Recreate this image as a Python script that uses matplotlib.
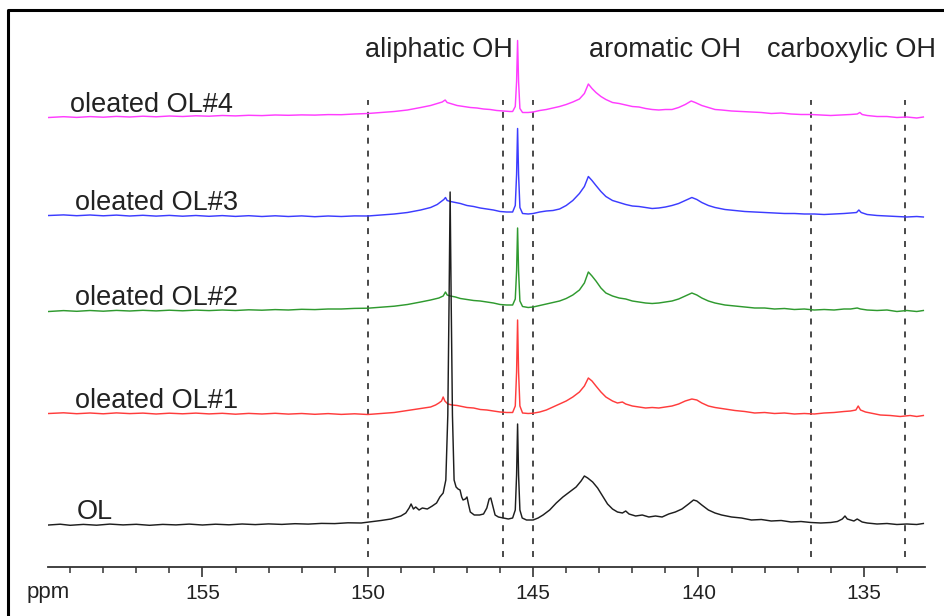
import matplotlib
matplotlib.use("Agg")
import matplotlib.pyplot as plt
from matplotlib.lines import Line2D

plt.rcParams['font.family'] = ['Liberation Sans', 'DejaVu Sans']
plt.rcParams['lines.scale_dashes'] = False

# 31P NMR traces: (ppm, intensity above own baseline), intensity in a.u.
ol = [
    (159.65, 0.0), (159.3, 0.8), (159.0, -0.3), (158.6, 0.6), (158.2, -0.2), (157.8, 0.9),
    (157.4, 0.1), (157.0, 0.7), (156.6, -0.3), (156.2, 0.6), (155.8, 0.1), (155.4, 0.9),
    (155.0, 0.0), (154.6, 0.8), (154.2, 0.2), (153.8, 1.0), (153.4, 0.4), (153.0, 1.1),
    (152.6, 0.6), (152.2, 1.3), (151.8, 0.9), (151.4, 1.6), (151.0, 1.4), (150.6, 2.2),
    (150.2, 2.0), (149.9, 3.2), (149.6, 4.5), (149.3, 6.0), (149.0, 9.0), (148.85, 12.0),
    (148.75, 17.0), (148.69, 21.0), (148.62, 16.0), (148.55, 18.0), (148.45, 15.0),
    (148.35, 17.0), (148.2, 16.0), (148.05, 19.0), (147.92, 22.0), (147.82, 28.0),
    (147.72, 32.0), (147.64, 45.0), (147.58, 110.0), (147.54, 230.0), (147.51, 333.0),
    (147.48, 230.0), (147.44, 110.0), (147.39, 45.0), (147.33, 38.0), (147.27, 36.0),
    (147.21, 35.0), (147.16, 28.0), (147.12, 25.0), (147.05, 26.0), (147.0, 28.0),
    (146.95, 20.0), (146.9, 13.0), (146.78, 10.0), (146.62, 10.0), (146.5, 11.0),
    (146.4, 17.0), (146.33, 26.0), (146.28, 27.0), (146.22, 19.0), (146.15, 10.0),
    (146.05, 8.0), (145.9, 7.0), (145.75, 6.0), (145.62, 7.0), (145.54, 15.0),
    (145.5, 50.0), (145.47, 101.0), (145.44, 50.0), (145.40, 15.0), (145.33, 7.0),
    (145.2, 5.0), (145.0, 5.0), (144.85, 7.0), (144.7, 10.0), (144.5, 15.0), (144.3, 22.0),
    (144.1, 28.0), (143.9, 33.0), (143.7, 38.0), (143.55, 44.0), (143.45, 49.0),
    (143.35, 47.0), (143.2, 43.0), (143.05, 37.0), (142.9, 29.0), (142.75, 21.0),
    (142.6, 16.0), (142.45, 13.0), (142.3, 12.0), (142.2, 14.0), (142.1, 11.0),
    (141.9, 9.0), (141.7, 10.0), (141.5, 8.0), (141.3, 9.0), (141.1, 8.0), (140.9, 11.0),
    (140.7, 13.0), (140.5, 16.0), (140.3, 21.0), (140.15, 25.0), (140.05, 24.0),
    (139.9, 20.0), (139.7, 15.0), (139.5, 12.0), (139.3, 10.0), (139.0, 8.0), (138.7, 7.0),
    (138.4, 5.0), (138.1, 5.5), (137.8, 4.0), (137.5, 4.5), (137.2, 3.0), (136.9, 3.5),
    (136.6, 2.5), (136.3, 2.0), (136.0, 2.5), (135.8, 3.5), (135.65, 6.0), (135.57, 9.0),
    (135.5, 6.0), (135.4, 5.0), (135.3, 4.0), (135.2, 6.0), (135.15, 5.0), (135.05, 3.0),
    (134.9, 2.0), (134.6, 1.0), (134.3, 1.5), (134.0, 0.5), (133.7, 1.0), (133.4, 0.5),
    (133.2, 1.5),
]

ol1 = [
    (159.65, 0.5), (159.2, 1.2), (158.8, 0.3), (158.4, 1.0), (158.0, 0.2), (157.6, 1.1),
    (157.2, 0.4), (156.8, 0.9), (156.4, 0.0), (156.0, 0.8), (155.6, 0.2), (155.2, 0.9),
    (154.8, 0.1), (154.4, 0.7), (154.0, -0.2), (153.6, 0.6), (153.2, 0.0), (152.8, 0.7),
    (152.4, -0.1), (152.0, 0.5), (151.6, -0.3), (151.2, 0.4), (150.8, -0.4), (150.4, 0.2),
    (150.0, -0.5), (149.6, 0.5), (149.2, 1.5), (148.9, 3.0), (148.6, 4.5), (148.3, 6.0),
    (148.1, 7.0), (147.95, 9.0), (147.85, 11.0), (147.77, 13.0), (147.72, 17.0),
    (147.67, 13.0), (147.58, 10.0), (147.45, 9.0), (147.3, 8.5), (147.15, 7.5),
    (147.0, 6.5), (146.8, 6.0), (146.6, 4.5), (146.4, 4.0), (146.2, 3.0), (146.0, 2.0),
    (145.8, 1.5), (145.62, 1.5), (145.54, 8.0), (145.5, 42.0), (145.47, 94.0),
    (145.44, 42.0), (145.40, 8.0), (145.32, 1.0), (145.15, 0.5), (145.0, 0.8),
    (144.8, 2.0), (144.6, 4.0), (144.4, 7.0), (144.2, 10.0), (144.0, 13.0), (143.8, 17.0),
    (143.6, 22.0), (143.45, 28.0), (143.33, 36.0), (143.22, 33.0), (143.1, 28.0),
    (142.95, 22.0), (142.8, 17.0), (142.6, 13.0), (142.45, 11.0), (142.3, 12.0),
    (142.2, 10.0), (142.0, 8.0), (141.8, 7.0), (141.6, 6.0), (141.4, 6.5), (141.2, 6.0),
    (141.0, 7.0), (140.8, 8.0), (140.6, 10.0), (140.4, 13.0), (140.2, 15.0),
    (140.05, 14.0), (139.9, 11.0), (139.7, 8.0), (139.5, 6.5), (139.2, 5.0), (138.9, 3.5),
    (138.6, 2.5), (138.3, 1.0), (138.0, 1.5), (137.7, 0.5), (137.4, 1.0), (137.1, 0.0),
    (136.8, 0.5), (136.5, 0.0), (136.2, 1.0), (135.9, 1.5), (135.6, 2.5), (135.4, 3.0),
    (135.24, 4.0), (135.17, 8.0), (135.1, 4.0), (134.95, 2.0), (134.8, 1.0),
    (134.5, -1.0), (134.2, -1.5), (133.9, -2.5), (133.6, -1.5), (133.4, -2.5),
    (133.2, -1.5),
]

ol2 = [
    (159.65, -0.5), (159.2, 0.4), (158.8, -0.3), (158.4, 0.5), (158.0, -0.2), (157.6, 0.6),
    (157.2, 0.0), (156.8, 0.7), (156.4, 0.1), (156.0, 0.8), (155.6, 0.2), (155.2, 0.9),
    (154.8, 0.4), (154.4, 1.0), (154.0, 0.5), (153.6, 1.2), (153.2, 0.8), (152.8, 1.4),
    (152.4, 1.0), (152.0, 1.7), (151.6, 1.4), (151.2, 2.0), (150.8, 2.0), (150.4, 2.6),
    (150.0, 2.8), (149.6, 3.8), (149.2, 4.8), (148.8, 6.5), (148.4, 9.0), (148.1, 11.0),
    (147.85, 13.0), (147.72, 15.0), (147.65, 19.0), (147.6, 16.0), (147.5, 15.0),
    (147.35, 14.0), (147.2, 12.5), (147.0, 11.5), (146.8, 10.5), (146.6, 10.0),
    (146.4, 9.0), (146.2, 8.0), (146.0, 6.5), (145.8, 6.0), (145.62, 6.0), (145.54, 12.0),
    (145.5, 40.0), (145.47, 83.0), (145.44, 40.0), (145.40, 10.0), (145.32, 4.5),
    (145.15, 3.5), (145.0, 4.0), (144.8, 5.5), (144.6, 7.0), (144.4, 8.5), (144.2, 10.0),
    (144.0, 12.5), (143.8, 16.0), (143.6, 21.0), (143.45, 28.0), (143.33, 39.0),
    (143.22, 35.0), (143.1, 30.0), (142.95, 23.0), (142.8, 18.0), (142.6, 15.0),
    (142.4, 13.0), (142.2, 12.0), (142.0, 10.0), (141.8, 9.0), (141.6, 8.0), (141.4, 7.5),
    (141.2, 8.0), (141.0, 9.0), (140.8, 10.0), (140.6, 12.0), (140.4, 15.0), (140.2, 18.0),
    (140.05, 16.0), (139.9, 13.0), (139.7, 10.0), (139.5, 8.0), (139.2, 6.0), (138.9, 5.0),
    (138.6, 4.0), (138.3, 3.0), (138.0, 3.0), (137.7, 2.0), (137.4, 2.5), (137.1, 1.5),
    (136.8, 2.0), (136.5, 1.0), (136.2, 1.5), (135.9, 1.0), (135.6, 2.0), (135.4, 2.0),
    (135.2, 3.0), (135.1, 2.0), (134.9, 1.0), (134.6, 0.5), (134.3, 1.0), (134.0, -0.5),
    (133.7, 0.5), (133.4, -0.5), (133.2, 0.5),
]

ol3 = [
    (159.65, 1.0), (159.2, 1.6), (158.8, 0.8), (158.4, 1.5), (158.0, 0.7), (157.6, 1.4),
    (157.2, 0.5), (156.8, 1.2), (156.4, 0.4), (156.0, 1.1), (155.6, 0.3), (155.2, 1.0),
    (154.8, 0.2), (154.4, 0.9), (154.0, 0.1), (153.6, 0.8), (153.2, 0.0), (152.8, 0.7),
    (152.4, 0.0), (152.0, 0.6), (151.6, -0.2), (151.2, 0.5), (150.8, 0.0), (150.4, 0.6),
    (150.0, 0.5), (149.6, 1.5), (149.2, 2.5), (148.8, 4.0), (148.4, 6.5), (148.1, 9.0),
    (147.9, 12.0), (147.78, 15.0), (147.7, 17.0), (147.65, 19.0), (147.6, 16.0),
    (147.5, 15.0), (147.35, 14.0), (147.2, 13.0), (147.0, 11.0), (146.8, 10.0),
    (146.6, 8.5), (146.4, 7.5), (146.2, 6.5), (146.0, 5.0), (145.8, 4.5), (145.62, 4.5),
    (145.54, 11.0), (145.5, 42.0), (145.47, 88.0), (145.44, 42.0), (145.40, 9.0),
    (145.32, 3.0), (145.15, 2.5), (145.0, 3.0), (144.8, 4.5), (144.6, 5.5), (144.4, 6.0),
    (144.2, 7.5), (144.0, 11.0), (143.8, 16.0), (143.6, 23.0), (143.45, 30.0),
    (143.33, 40.0), (143.22, 36.0), (143.1, 31.0), (142.95, 25.0), (142.8, 20.0),
    (142.6, 16.0), (142.4, 14.0), (142.2, 12.0), (142.0, 10.5), (141.8, 10.0),
    (141.6, 9.0), (141.4, 8.0), (141.2, 8.5), (141.0, 9.5), (140.8, 11.0), (140.6, 13.0),
    (140.4, 16.0), (140.2, 19.0), (140.05, 17.0), (139.9, 14.0), (139.7, 11.0),
    (139.5, 9.0), (139.2, 7.0), (138.9, 6.0), (138.6, 5.0), (138.3, 4.5), (138.0, 4.0),
    (137.7, 3.5), (137.4, 3.0), (137.1, 3.0), (136.8, 2.5), (136.5, 2.5), (136.2, 2.0),
    (135.9, 2.5), (135.6, 3.0), (135.4, 3.5), (135.22, 4.0), (135.15, 6.5), (135.08, 4.0),
    (134.9, 2.0), (134.6, 1.0), (134.3, 0.5), (134.0, 0.0), (133.7, -0.5), (133.4, 0.0),
    (133.2, -0.5),
]

ol4 = [
    (159.65, 0.0), (159.2, 0.8), (158.8, 0.1), (158.4, 0.9), (158.0, 0.3), (157.6, 1.1),
    (157.2, 0.5), (156.8, 1.3), (156.4, 0.7), (156.0, 1.5), (155.6, 1.0), (155.2, 1.7),
    (154.8, 1.3), (154.4, 2.0), (154.0, 1.6), (153.6, 2.2), (153.2, 1.9), (152.8, 2.5),
    (152.4, 2.2), (152.0, 2.6), (151.6, 2.4), (151.2, 2.9), (150.8, 2.8), (150.4, 3.5),
    (150.0, 4.0), (149.6, 5.0), (149.2, 6.0), (148.8, 7.5), (148.4, 10.0), (148.1, 12.0),
    (147.9, 14.0), (147.75, 15.5), (147.66, 17.5), (147.6, 15.0), (147.5, 14.0),
    (147.3, 12.0), (147.1, 11.0), (146.9, 10.0), (146.7, 9.5), (146.5, 8.5), (146.3, 8.0),
    (146.1, 7.0), (145.9, 6.5), (145.7, 6.0), (145.62, 6.0), (145.54, 11.0), (145.5, 36.0),
    (145.47, 77.0), (145.44, 36.0), (145.40, 9.0), (145.32, 5.0), (145.15, 5.0),
    (145.0, 5.5), (144.8, 7.0), (144.6, 8.0), (144.4, 9.5), (144.2, 11.0), (144.0, 13.0),
    (143.8, 15.5), (143.6, 18.5), (143.45, 24.0), (143.33, 33.5), (143.22, 29.0),
    (143.1, 25.0), (142.95, 21.0), (142.8, 18.0), (142.6, 15.0), (142.4, 14.0),
    (142.2, 12.5), (142.0, 11.0), (141.8, 10.5), (141.6, 9.0), (141.4, 8.0), (141.2, 7.5),
    (141.0, 8.0), (140.8, 8.0), (140.6, 10.0), (140.4, 13.0), (140.22, 16.5),
    (140.1, 15.0), (139.9, 12.0), (139.7, 10.0), (139.5, 8.0), (139.3, 7.5), (139.0, 6.5),
    (138.7, 6.0), (138.4, 5.5), (138.1, 5.0), (137.8, 4.0), (137.5, 4.5), (137.2, 3.5),
    (136.9, 3.0), (136.6, 3.0), (136.3, 2.5), (136.0, 2.0), (135.7, 2.5), (135.4, 3.0),
    (135.2, 3.5), (135.12, 5.0), (135.05, 3.0), (134.9, 2.0), (134.6, 1.0), (134.3, 1.0),
    (134.0, 0.0), (133.7, 0.5), (133.4, -0.5), (133.2, 0.5),
]

spectra = [ol4, ol3, ol2, ol1, ol]
names = ["oleated OL#4", "oleated OL#3", "oleated OL#2", "oleated OL#1", "OL"]
colors = ["#ff3cff", "#3c3cff", "#2f9a2f", "#ff3c3c", "#1e1e1e"]
offsets = [449.5, 350.5, 256, 153, 42]
name_x = [159.0, 158.85, 158.85, 158.85, 158.79]

# integration region borders and their labels
borders = [150.0, 145.9, 145.0, 136.6, 133.75]
regions = ["aliphatic OH", "aromatic OH", "carboxylic OH"]
region_x = [147.84, 141.01, 135.37]

fig = plt.figure(figsize=(9.44, 6.16), dpi=100)
ax = fig.add_axes([48 / 944, 49 / 616, 877 / 944, 558 / 616])

for b in borders:
    ax.plot([b, b], [10, 467], color="#3a3a3a", lw=1.3, ls=(0, (4.3, 5.0)), zorder=1)

for spec, col, off, z in zip(spectra, colors, offsets, range(2, 7)):
    x = [p for p, _ in spec]
    y = [off + h for _, h in spec]
    ax.plot(x, y, color=col, lw=1.05, zorder=z)

for name, nx, off in zip(names, name_x, offsets):
    ax.text(nx, off + 6, name, fontsize=19.5, color="#222222", ha="left", va="baseline")

for reg, rx in zip(regions, region_x):
    ax.text(rx, 510, reg, fontsize=19.5, color="#222222", ha="center", va="baseline")

ax.set_xlim(159.67, 133.15)
ax.set_ylim(0, 558)
for side in ["top", "left", "right"]:
    ax.spines[side].set_visible(False)
ax.spines["bottom"].set_linewidth(1.3)
ax.spines["bottom"].set_color("#333333")
ax.set_yticks([])
ax.set_xticks([155, 150, 145, 140, 135])
ax.set_xticks(range(134, 160), minor=True)
ax.tick_params(axis="x", which="major", direction="out", length=7, width=1.2,
               colors="#333333", labelcolor="#222222", labelsize=15, pad=5)
ax.tick_params(axis="x", which="minor", direction="out", length=4, width=1.1,
               colors="#333333")

fig.text(27 / 944, 1 - 598 / 616, "ppm", fontsize=16, color="#222222",
         ha="left", va="baseline")

# open frame along the left and top edges
fig.add_artist(Line2D([8 / 944, 8 / 944, 1.2], [-0.2, 1 - 10 / 616, 1 - 10 / 616],
                      transform=fig.transFigure, color="black", lw=2.2))

fig.savefig("out.png", dpi=100)
